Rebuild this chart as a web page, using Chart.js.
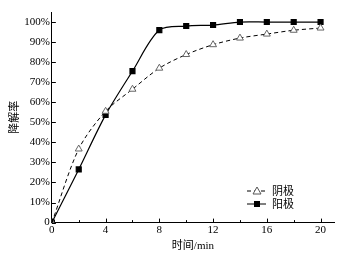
<!DOCTYPE html>
<html>
<head>
<meta charset="utf-8">
<script src="https://cdn.jsdelivr.net/npm/chart.js@4/dist/chart.umd.min.js"></script>
<style>
  html, body { margin: 0; padding: 0; background: #fff; }
  #wrap { width: 344px; height: 259px; }
</style>
</head>
<body>
<div id="wrap"><canvas id="chart-line"></canvas></div>
<script>
var times = [0, 2, 4, 6, 8, 10, 12, 14, 16, 18, 20];
var cathode = [0, 36.7, 55.5, 66.5, 77, 83.8, 88.7, 92, 94, 95.9, 97];
var anode = [0, 26.5, 53.7, 75.5, 96, 98, 98.5, 100, 100, 100, 100];
var yTicks = [0, 10, 20, 30, 40, 50, 60, 70, 80, 90, 100];
var xTicks = [0, 4, 8, 12, 16, 20];

var serif = "'Liberation Serif', 'Noto Sans CJK SC', serif";

function pts(ys) {
    return times.map(function (t, i) { return { x: t, y: ys[i] }; });
}

// ticks pointing into the plot, plus the little legend box
var axisDecor = {
    id: 'axisDecor',
    afterDatasetsDraw: function (chart) {
        var c = chart.ctx, xs = chart.scales.x, ys = chart.scales.y;
        var left = chart.chartArea.left, bottom = chart.chartArea.bottom;
        c.save();
        c.strokeStyle = '#000';
        c.lineWidth = 1;
        c.beginPath();
        yTicks.forEach(function (v) {
            var y = Math.round(ys.getPixelForValue(v)) + 0.5;
            c.moveTo(left, y); c.lineTo(left + 4, y);
        });
        times.forEach(function (v) {
            var x = Math.round(xs.getPixelForValue(v)) + 0.5;
            var len = (v % 4 === 0) ? 4 : 2.5;
            c.moveTo(x, bottom); c.lineTo(x, bottom - len);
        });
        c.stroke();

        // legend
        var lx = 247, ly = 191;
        chart.data.datasets.forEach(function (ds, i) {
            var y = ly + i * 13;
            c.beginPath();
            c.setLineDash(ds.borderDash || []);
            c.strokeStyle = '#000';
            c.moveTo(lx, y); c.lineTo(lx + 19, y);
            c.stroke();
            c.setLineDash([]);
            var mx = lx + 10;
            if (ds.pointStyle === 'triangle') {
                c.fillStyle = '#fff';
                c.beginPath();
                c.moveTo(mx, y - 4); c.lineTo(mx + 4, y + 3); c.lineTo(mx - 4, y + 3); c.closePath();
                c.fill();
                c.strokeStyle = '#555';
                c.stroke();
            } else {
                c.fillStyle = '#000';
                c.fillRect(mx - 3, y - 3, 6, 6);
            }
            c.fillStyle = '#000';
            c.font = "11px 'Noto Sans CJK SC'";
            c.textBaseline = 'middle';
            c.fillText(ds.label, lx + 25, y);
        });
        c.restore();
    }
};

new Chart(document.getElementById('chart-line').getContext('2d'), {
    type: 'line',
    data: {
        datasets: [{
            label: '阴极',
            data: pts(cathode),
            borderColor: '#000',
            borderWidth: 1,
            borderDash: [4, 3],
            tension: 0.3,
            pointStyle: 'triangle',
            pointRadius: 4,
            pointBackgroundColor: '#fff',
            pointBorderColor: '#666',
            pointBorderWidth: 1,
            fill: false
        }, {
            label: '阳极',
            data: pts(anode),
            borderColor: '#000',
            borderWidth: 1.2,
            tension: 0.3,
            pointStyle: 'rect',
            pointRadius: 3.5,
            pointBackgroundColor: '#000',
            pointBorderColor: '#000',
            fill: false
        }]
    },
    options: {
        responsive: true,
        maintainAspectRatio: false,
        animation: false,
        layout: { padding: { top: 12, right: 10, left: 9, bottom: 6 } },
        plugins: {
            legend: { display: false },
            tooltip: { enabled: false }
        },
        scales: {
            x: {
                type: 'linear',
                min: 0,
                max: 21,
                afterBuildTicks: function (s) {
                    s.ticks = xTicks.map(function (v) { return { value: v }; });
                },
                grid: { display: false, drawTicks: false },
                border: { display: true, color: '#000', width: 1 },
                ticks: {
                    color: '#000',
                    padding: 1,
                    maxRotation: 0,
                    font: { family: serif, size: 11 }
                },
                title: {
                    display: true,
                    text: '时间/min',
                    color: '#000',
                    padding: { top: 2, bottom: 0 },
                    font: { family: serif, size: 11 }
                }
            },
            y: {
                min: 0,
                max: 105,
                afterBuildTicks: function (s) {
                    s.ticks = yTicks.map(function (v) { return { value: v }; });
                },
                grid: { display: false, drawTicks: false },
                border: { display: true, color: '#000', width: 1 },
                ticks: {
                    color: '#000',
                    padding: 2,
                    font: { family: serif, size: 11 },
                    callback: function (v) { return v === 0 ? '0' : v + '%'; }
                },
                title: {
                    display: true,
                    text: '降解率',
                    color: '#000',
                    padding: { top: 0, bottom: 0 },
                    font: { family: serif, size: 11 }
                }
            }
        }
    },
    plugins: [axisDecor]
});
</script>
</body>
</html>
